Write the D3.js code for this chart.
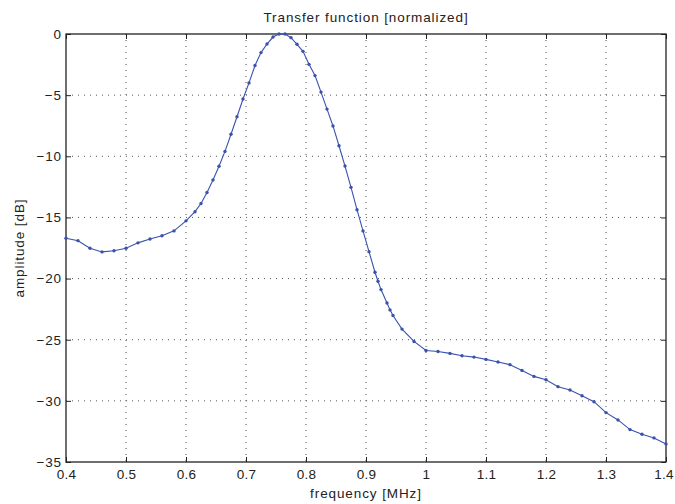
<!DOCTYPE html>
<html>
<head>
<meta charset="utf-8">
<script src="https://cdn.jsdelivr.net/npm/d3@7"></script>
<style>
  body { margin: 0; background: #fff; }
  svg { display: block; font-family: "Liberation Sans", Arial, sans-serif; }
  text { letter-spacing: 0.9px; }
  .xaxis text { letter-spacing: 0.3px; }
</style>
</head>
<body>
<div id="chart"></div>
<script>
// ---- DATA ----
const freq = [
  0.40, 0.42, 0.44, 0.46, 0.48, 0.50, 0.52, 0.54, 0.56, 0.58, 0.60,
  0.615, 0.625, 0.635, 0.645, 0.655, 0.665, 0.675, 0.685, 0.695, 0.705,
  0.715, 0.725, 0.735, 0.745, 0.755, 0.765, 0.775, 0.785, 0.795, 0.805,
  0.815, 0.825, 0.835, 0.845, 0.855, 0.865, 0.875, 0.885, 0.895, 0.905,
  0.915, 0.92, 0.925, 0.935, 0.94, 0.945, 0.96, 0.98,
  1.00, 1.02, 1.04, 1.06, 1.08, 1.10, 1.12, 1.14, 1.16, 1.18, 1.20,
  1.22, 1.24, 1.26, 1.28, 1.30, 1.32, 1.34, 1.36, 1.38, 1.40
];
const amp = [
  -16.7, -16.9, -17.52, -17.82, -17.72, -17.52, -17.08, -16.77, -16.5, -16.1, -15.28,
  -14.53, -13.86, -12.96, -11.94, -10.82, -9.6, -8.2, -6.77, -5.32, -4.0,
  -2.58, -1.52, -0.82, -0.25, 0, 0, -0.3, -0.84, -1.42, -2.48,
  -3.4, -4.75, -6.14, -7.52, -9.14, -10.8, -12.54, -14.37, -16.1, -17.8,
  -19.48, -20.22, -20.9, -22.0, -22.56, -23.02, -24.13, -25.14,
  -25.88, -25.96, -26.12, -26.31, -26.42, -26.61, -26.82, -27.04, -27.51, -28.0, -28.27,
  -28.84, -29.11, -29.58, -30.07, -30.96, -31.56, -32.35, -32.73, -33.03, -33.52
];
const xTicks = [0.4, 0.5, 0.6, 0.7, 0.8, 0.9, 1.0, 1.1, 1.2, 1.3, 1.4];
const yTicks = [0, -5, -10, -15, -20, -25, -30, -35];

const titleText = 'Transfer function [normalized]';
const xLabel = 'frequency [MHz]';
const yLabel = 'amplitude [dB]';

// ---- LAYOUT ----
const W = 675, H = 504;
const m = { left: 66, right: 9, top: 34, bottom: 42 };
const iw = W - m.left - m.right, ih = H - m.top - m.bottom;
const lineColor = '#3a52ad';
const fontSize = 13.5;

const svg = d3.select('#chart').append('svg').attr('width', W).attr('height', H);
const g = svg.append('g').attr('transform', `translate(${m.left},${m.top})`);

const x = d3.scaleLinear().domain([0.4, 1.4]).range([0, iw]);
const y = d3.scaleLinear().domain([-35, 0]).range([ih, 0]);

// grid (dotted)
g.append('g').selectAll('line')
  .data(xTicks.slice(1, -1)).join('line')
  .attr('x1', d => x(d)).attr('x2', d => x(d))
  .attr('y1', 0).attr('y2', ih)
  .attr('stroke', '#555').attr('stroke-width', 1)
  .attr('stroke-dasharray', '1,5');
g.append('g').selectAll('line')
  .data(yTicks.slice(1, -1)).join('line')
  .attr('x1', 0).attr('x2', iw)
  .attr('y1', d => y(d)).attr('y2', d => y(d))
  .attr('stroke', '#555').attr('stroke-width', 1)
  .attr('stroke-dasharray', '1,5');

// axes with inward ticks
const fmtX = d => d3.format('')(+d.toFixed(1));
const xAxis = g.append('g').attr('class', 'xaxis').attr('transform', `translate(0,${ih})`)
  .call(d3.axisBottom(x).tickValues(xTicks).tickSizeInner(-5).tickSizeOuter(0).tickPadding(9).tickFormat(fmtX));
const xTop = g.append('g')
  .call(d3.axisTop(x).tickValues(xTicks).tickSizeInner(-5).tickSizeOuter(0).tickFormat(''));
const yAxis = g.append('g')
  .call(d3.axisLeft(y).tickValues(yTicks).tickSizeInner(-5).tickSizeOuter(0).tickPadding(4).tickFormat(d3.format('')));
const yRight = g.append('g').attr('transform', `translate(${iw},0)`)
  .call(d3.axisRight(y).tickValues(yTicks).tickSizeInner(-5).tickSizeOuter(0).tickFormat(''));

[xAxis, xTop, yAxis, yRight].forEach(a => {
  a.select('.domain').remove();
  a.selectAll('.tick line').attr('stroke', '#222');
  a.selectAll('text').attr('font-size', fontSize).attr('fill', '#222')
    .attr('font-family', '"Liberation Sans", Arial, sans-serif');
});
xAxis.selectAll('text').attr('dy', '0.6em');
// keep the last label inside the window
xAxis.selectAll('.tick').filter(d => d === 1.4).select('text').attr('dx', -2.5);

// frame
g.append('rect').attr('width', iw).attr('height', ih)
  .attr('fill', 'none').attr('stroke', '#222').attr('stroke-width', 1.3);

// series
const pts = freq.map((f, i) => [f, amp[i]]);
g.append('path').datum(pts)
  .attr('fill', 'none').attr('stroke', lineColor).attr('stroke-width', 1.1)
  .attr('d', d3.line().x(d => x(d[0])).y(d => y(d[1])));
g.append('g').selectAll('circle').data(pts).join('circle')
  .attr('cx', d => x(d[0])).attr('cy', d => y(d[1])).attr('r', 1.7)
  .attr('fill', lineColor);

// labels
svg.append('text').attr('x', m.left + iw / 2).attr('y', 22)
  .attr('text-anchor', 'middle').attr('font-size', fontSize).attr('fill', '#222')
  .text(titleText);
svg.append('text').attr('x', m.left + iw / 2).attr('y', 498)
  .attr('text-anchor', 'middle').attr('font-size', fontSize).attr('fill', '#222')
  .text(xLabel);
svg.append('text')
  .attr('transform', `translate(24,${m.top + ih / 2}) rotate(-90)`)
  .attr('text-anchor', 'middle').attr('font-size', fontSize).attr('fill', '#222')
  .text(yLabel);
</script>
</body>
</html>
